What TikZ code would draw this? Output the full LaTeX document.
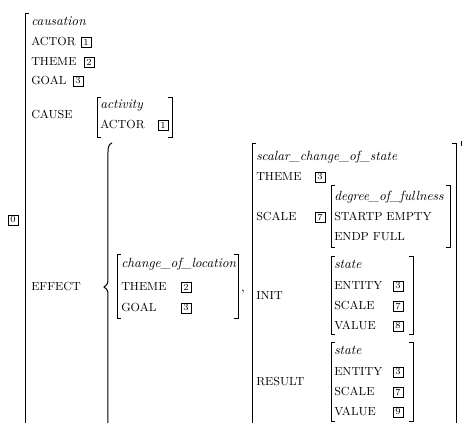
\documentclass[tikz,border=0pt]{standalone}
\begin{document}
\begin{tikzpicture}[x=0.75pt,y=-0.75pt,
  brk/.style={line width=0.6pt},
  lbl/.style={anchor=base west,inner sep=0pt,font=\fontsize{8.8}{10}\selectfont},
  typ/.style={anchor=base west,inner sep=0pt,font=\fontsize{10}{12}\selectfont\itshape},
  tagbox/.style={draw,line width=0.4pt,inner sep=0pt,minimum size=7.5pt,font=\scriptsize}]
\useasboundingbox (0,0) rectangle (462,423);
% outer bracket
\draw[brk] (29,13) -- (25,13) -- (25,423);
\draw[brk] (461,141) -- (461,146);
\node[tagbox] (t0) at (13,220) {0};
% top rows
\node[typ] (causation) at (31,26) {causation};
\node[lbl] (actor) at (31,46) {ACTOR};
\node[tagbox] (t1a) at (86,42) {1};
\node[lbl] (theme) at (31,66) {THEME};
\node[tagbox] (t2a) at (89,62) {2};
\node[lbl] (goal) at (31,85) {GOAL};
\node[tagbox] (t3a) at (78,81) {3};
\node[lbl] (cause) at (31,119) {CAUSE};
% activity
\draw[brk] (101,97) -- (97,97) -- (97,137) -- (101,137);
\draw[brk] (168,97) -- (172,97) -- (172,137) -- (168,137);
\node[typ] (activity) at (100,109) {activity};
\node[lbl] (actor2) at (100,129) {ACTOR};
\node[tagbox] (t1b) at (163,125) {1};
% effect
\node[lbl] (effect) at (31,291) {EFFECT};
\draw[line width=0.75pt] (112,143) .. controls (109,144) and (108,147) .. (108,152) -- (108,280)
  .. controls (108,284) and (106,286) .. (104,287) .. controls (106,288) and (108,290) .. (108,294) -- (108,423);
% change of location
\draw[brk] (121,254) -- (117,254) -- (117,318) -- (121,318);
\draw[brk] (234,254) -- (238,254) -- (238,318) -- (234,318);
\node[typ] (col) at (121,268) {change\_of\_location};
\node[lbl] (theme2) at (121,291) {THEME};
\node[tagbox] (t2b) at (186,287) {2};
\node[lbl] (goal2) at (121,312) {GOAL};
\node[tagbox] (t3b) at (186,308) {3};
\node[inner sep=0pt,anchor=base] (comma) at (243,292) {,};
% scalar change
\draw[brk] (256,143) -- (252,143) -- (252,423);
\draw[brk] (452,143) -- (456,143) -- (456,423);
\node[typ] (scs) at (256,161) {scalar\_change\_of\_state};
\node[lbl] (theme3) at (256,181) {THEME};
\node[tagbox] (t3c) at (320,177) {3};
\node[lbl] (scale) at (256,221) {SCALE};
\node[tagbox] (t7a) at (320,217) {7};
% degree of fullness
\draw[brk] (335,185) -- (331,185) -- (331,247) -- (335,247);
\draw[brk] (446,185) -- (450,185) -- (450,247) -- (446,247);
\node[typ] (dof) at (334,201) {degree\_of\_fullness};
\node[lbl] (startp) at (334,221) {STARTP EMPTY};
\node[lbl] (endp) at (334,241) {ENDP FULL};
% init
\node[lbl] (init) at (256,300) {INIT};
\draw[brk] (335,256) -- (331,256) -- (331,334) -- (335,334);
\draw[brk] (409,256) -- (413,256) -- (413,334) -- (409,334);
\node[typ] (st1) at (334,269) {state};
\node[lbl] (ent1) at (334,290) {ENTITY};
\node[tagbox] (t3d) at (398,286) {3};
\node[lbl] (sc1) at (334,310) {SCALE};
\node[tagbox] (t7b) at (398,306) {7};
\node[lbl] (val1) at (334,330) {VALUE};
\node[tagbox] (t8) at (398,326) {8};
% result
\node[lbl] (result) at (256,386) {RESULT};
\draw[brk] (335,342) -- (331,342) -- (331,421) -- (335,421);
\draw[brk] (409,342) -- (413,342) -- (413,421) -- (409,421);
\node[typ] (st2) at (334,355) {state};
\node[lbl] (ent2) at (334,376) {ENTITY};
\node[tagbox] (t3e) at (398,372) {3};
\node[lbl] (sc2) at (334,396) {SCALE};
\node[tagbox] (t7c) at (398,392) {7};
\node[lbl] (val2) at (334,416) {VALUE};
\node[tagbox] (t9) at (398,412) {9};
\end{tikzpicture}
\end{document}
